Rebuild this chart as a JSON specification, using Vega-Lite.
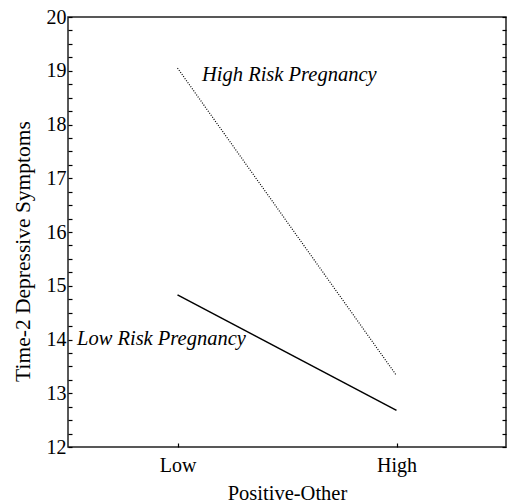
{
  "$schema": "https://vega.github.io/schema/vega-lite/v6.json",
  "width": 438,
  "height": 430,
  "autosize": {"type": "none"},
  "padding": {"left": 68, "top": 17, "right": 5, "bottom": 57},
  "background": "white",
  "config": {
    "font": "Liberation Serif",
    "view": {"stroke": "#222", "strokeWidth": 1.5}
  },
  "datasets": {
    "lines": [
      {"level": 0.5, "score": 19.05, "group": "High Risk Pregnancy"},
      {"level": 1.5, "score": 13.33, "group": "High Risk Pregnancy"},
      {"level": 0.5, "score": 14.83, "group": "Low Risk Pregnancy"},
      {"level": 1.5, "score": 12.68, "group": "Low Risk Pregnancy"}
    ],
    "labels": [
      {"level": 0.612, "score": 18.81, "text": "High Risk Pregnancy"},
      {"level": 0.041, "score": 13.9, "text": "Low Risk Pregnancy"}
    ]
  },
  "layer": [
    {
      "data": {"name": "lines"},
      "transform": [{"filter": "datum.group === 'High Risk Pregnancy'"}],
      "mark": {"type": "line", "color": "black", "strokeWidth": 1.2, "strokeDash": [1, 1.5]},
      "encoding": {
        "x": {
          "field": "level", "type": "quantitative",
          "scale": {"domain": [0, 2], "nice": false},
          "axis": {
            "values": [0.5, 1.5],
            "labelExpr": "datum.value < 1 ? 'Low' : 'High'",
            "title": "Positive-Other",
            "grid": false, "domain": false,
            "tickSize": -4, "tickColor": "black", "tickWidth": 1.2,
            "labelFont": "Liberation Serif", "labelFontSize": 20, "labelColor": "black", "labelPadding": 12,
            "titleFont": "Liberation Serif", "titleFontSize": 20.5, "titleFontWeight": "normal", "titleColor": "black", "titlePadding": 8
          }
        },
        "y": {
          "field": "score", "type": "quantitative",
          "scale": {"domain": [12, 20], "nice": false, "zero": false},
          "axis": {
            "values": [12, 12.25, 12.5, 12.75, 13, 13.25, 13.5, 13.75, 14, 14.25, 14.5, 14.75, 15, 15.25, 15.5, 15.75, 16, 16.25, 16.5, 16.75, 17, 17.25, 17.5, 17.75, 18, 18.25, 18.5, 18.75, 19, 19.25, 19.5, 19.75, 20],
            "labelExpr": "datum.value % 1 === 0 ? format(datum.value, 'd') : ''",
            "title": "Time-2 Depressive Symptoms",
            "grid": false, "domain": false,
            "tickSize": -4, "tickColor": "black", "tickWidth": 1.2,
            "labelFont": "Liberation Serif", "labelFontSize": 20, "labelColor": "black", "labelPadding": 6,
            "titleFont": "Liberation Serif", "titleFontSize": 21.5, "titleFontWeight": "normal", "titleColor": "black", "titlePadding": 12,
            "titleY": 234
          }
        }
      }
    },
    {
      "data": {"name": "lines"},
      "transform": [{"filter": "datum.group === 'Low Risk Pregnancy'"}],
      "mark": {"type": "line", "color": "black", "strokeWidth": 1.5},
      "encoding": {
        "x": {"field": "level", "type": "quantitative"},
        "y": {
          "field": "score", "type": "quantitative",
          "axis": {
            "orient": "right",
            "values": [12, 12.25, 12.5, 12.75, 13, 13.25, 13.5, 13.75, 14, 14.25, 14.5, 14.75, 15, 15.25, 15.5, 15.75, 16, 16.25, 16.5, 16.75, 17, 17.25, 17.5, 17.75, 18, 18.25, 18.5, 18.75, 19, 19.25, 19.5, 19.75, 20],
            "labels": false, "title": null,
            "grid": false, "domain": false,
            "tickSize": -4, "tickColor": "black", "tickWidth": 1.2
          }
        }
      }
    },
    {
      "data": {"name": "labels"},
      "mark": {"type": "text", "align": "left", "baseline": "alphabetic", "font": "Liberation Serif, Times New Roman, serif", "fontStyle": "italic", "fontSize": 20.5, "color": "black"},
      "encoding": {
        "x": {"field": "level", "type": "quantitative"},
        "y": {"field": "score", "type": "quantitative", "axis": null},
        "text": {"field": "text"}
      }
    }
  ],
  "resolve": {"axis": {"y": "independent"}}
}
